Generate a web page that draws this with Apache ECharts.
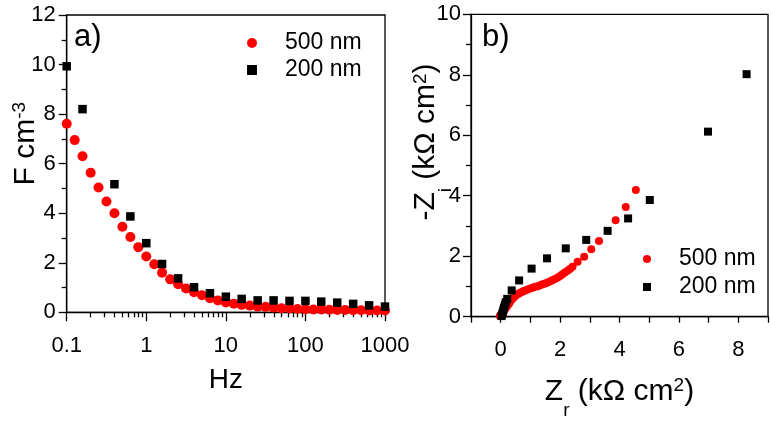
<!DOCTYPE html>
<html><head><meta charset="utf-8">
<script src="https://cdn.jsdelivr.net/npm/echarts@6/dist/echarts.min.js"></script>
<style>html,body{margin:0;padding:0;background:#fff}#c{width:771px;height:421px}</style>
</head><body><div id="c"></div>
<script>
// ---- Panel a) : capacitance vs frequency ----
const freq500 = [0.1, 0.126, 0.158, 0.2, 0.251, 0.316, 0.398, 0.501, 0.631, 0.794,
  1, 1.26, 1.58, 2, 2.51, 3.16, 3.98, 5.01, 6.31, 7.94,
  10, 12.6, 15.8, 20, 25.1, 31.6, 39.8, 50.1, 63.1, 79.4,
  100, 126, 158, 200, 251, 316, 398, 501, 631, 794, 1000];
const cap500 = [7.61, 6.95, 6.30, 5.63, 5.04, 4.47, 4.00, 3.45, 3.04, 2.63,
  2.25, 1.94, 1.60, 1.33, 1.13, 0.96, 0.81, 0.69, 0.57, 0.48,
  0.40, 0.35, 0.30, 0.27, 0.23, 0.22, 0.19, 0.16, 0.15, 0.13,
  0.12, 0.11, 0.11, 0.10, 0.09, 0.09, 0.08, 0.08, 0.07, 0.07, 0.07];
const freq200 = [0.1, 0.158, 0.398, 0.631, 1, 1.58, 2.51, 3.98, 6.31, 10,
  15.8, 25.1, 39.8, 63.1, 100, 158, 251, 398, 631, 1000];
const cap200 = [9.93, 8.20, 5.17, 3.87, 2.79, 1.95, 1.37, 1.01, 0.77, 0.63,
  0.54, 0.48, 0.48, 0.46, 0.46, 0.43, 0.39, 0.34, 0.28, 0.23];
const logMinorTicks = [0.2,0.3,0.4,0.5,0.6,0.7,0.8,0.9, 2,3,4,5,6,7,8,9,
  20,30,40,50,60,70,80,90, 200,300,400,500,600,700,800,900];

// ---- Panel b) : Nyquist plot ----
const zr500 = [-0.03, 0.00, 0.02, 0.06, 0.10, 0.14, 0.19, 0.23, 0.27, 0.30,
  0.33, 0.37, 0.41, 0.45, 0.50, 0.55, 0.61, 0.68, 0.75, 0.83,
  0.91, 0.99, 1.08, 1.16, 1.25, 1.33, 1.41, 1.50, 1.58, 1.67,
  1.75, 1.83, 1.92, 2.00, 2.08, 2.16, 2.25, 2.33, 2.42, 2.59,
  2.81, 3.05, 3.31, 3.87, 4.21, 4.55];
const zi500 = [0.02, 0.05, 0.09, 0.14, 0.19, 0.25, 0.31, 0.37, 0.42, 0.47,
  0.52, 0.57, 0.61, 0.65, 0.69, 0.73, 0.77, 0.80, 0.84, 0.87,
  0.90, 0.93, 0.96, 0.99, 1.01, 1.04, 1.07, 1.10, 1.13, 1.17,
  1.21, 1.25, 1.30, 1.35, 1.40, 1.46, 1.52, 1.58, 1.65, 1.82,
  1.98, 2.23, 2.50, 3.19, 3.63, 4.19];
const zr200 = [0.03, 0.05, 0.07, 0.09, 0.11, 0.14, 0.17, 0.22, 0.37, 0.62,
  1.04, 1.56, 2.19, 2.88, 3.60, 4.29, 5.02, 6.98, 8.28];
const zi200 = [0.02, 0.08, 0.15, 0.22, 0.30, 0.39, 0.48, 0.59, 0.87, 1.20,
  1.59, 1.93, 2.26, 2.54, 2.84, 3.25, 3.86, 6.12, 8.02];

const seriesNames = ['500 nm', '200 nm'];
const yTicksA = [0, 2, 4, 6, 8, 10, 12];

const FONT = "'Liberation Sans', Arial, sans-serif";
const AX = {color: '#000', width: 1.3};
const richT = {
  m:   {fontSize: 30, fontFamily: FONT, color: '#000', lineHeight: 38, verticalAlign: 'top'},
  sup: {fontSize: 19, fontFamily: FONT, color: '#000', lineHeight: 18, verticalAlign: 'top'},
  sub: {fontSize: 19, fontFamily: FONT, color: '#000', lineHeight: 18, verticalAlign: 'top', padding: [25, 0, 0, 0]}
};
const tickLabel = {fontSize: 22, color: '#000', fontFamily: FONT};

const zip = (a, b) => a.map((v, i) => [v, b[i]]);

const gridA = {left: 66.7, top: 15, width: 318.3, height: 297.3};
const NB = {outerBoundsMode: 'none', containLabel: false};

const chart = echarts.init(document.getElementById('c'), null, {renderer: 'canvas'});
chart.setOption({
  animation: false,
  backgroundColor: '#fff',
  title: [
    {text: 'a)', left: 74, top: 22, padding: 0, textStyle: {fontSize: 31, fontWeight: 'normal', fontFamily: FONT, color: '#000'}},
    {text: 'b)', left: 482, top: 22, padding: 0, textStyle: {fontSize: 31, fontWeight: 'normal', fontFamily: FONT, color: '#000'}}
  ],
  legend: [
    {left: 242, top: 26.5, orient: 'vertical', itemWidth: 10, itemHeight: 10, itemGap: 4, selectedMode: false,
     data: [{name: seriesNames[0], icon: 'circle'}, {name: seriesNames[1], icon: 'rect'}],
     formatter: '{t|{name}}',
     textStyle: {rich: {t: {fontSize: 23, fontFamily: FONT, color: '#000', padding: [0, 0, 0, 23]}}}},
    {left: 638, top: 242.5, orient: 'vertical', itemWidth: 8, itemHeight: 8, itemGap: 5, selectedMode: false,
     data: [{name: seriesNames[0], icon: 'circle'}, {name: seriesNames[1], icon: 'rect'}],
     formatter: '{t|{name}}',
     textStyle: {rich: {t: {fontSize: 23, fontFamily: FONT, color: '#000', padding: [0, 0, 0, 23]}}}}
  ],
  grid: [
    Object.assign({show: true, borderColor: '#000', borderWidth: 1.3, backgroundColor: 'transparent'}, NB, gridA),
    Object.assign({left: 471, top: 14.3, width: 297, height: 302.4, show: true, borderColor: '#000', borderWidth: 1.3, backgroundColor: 'transparent'}, NB),
    Object.assign({show: false, left: gridA.left, width: gridA.width, top: gridA.top + gridA.height + 5, height: 1}, NB)
  ],
  xAxis: [
    {type: 'log', logBase: 10, gridIndex: 0, min: 0.1, max: 1000,
     axisLine: {show: true, onZero: false, lineStyle: AX},
     axisTick: {show: true, length: 9, lineStyle: AX},
     axisLabel: Object.assign({margin: 23, formatter: v => String(Math.round(v * 10) / 10)}, tickLabel),
     splitLine: {show: false},
     name: 'Hz', nameLocation: 'middle', nameGap: 54, nameMoveOverlap: false,
     nameTextStyle: {fontSize: 28, fontFamily: FONT, color: '#000'}},
    {type: 'value', gridIndex: 1, min: -1, max: 9, interval: 1,
     axisLine: {show: true, onZero: false, lineStyle: AX},
     axisTick: {show: true, length: 6, lineStyle: AX},
     axisLabel: Object.assign({margin: 22, formatter: v => (v % 2 === 0 ? String(v) : '')}, tickLabel),
     splitLine: {show: false},
     name: '{m|Z}{sub|r}{m| (kΩ cm}{sup|2}{m|)}', nameLocation: 'middle', nameGap: 60, nameMoveOverlap: false,
     nameTextStyle: {rich: richT}},
    {type: 'log', logBase: 10, gridIndex: 2, min: 0.1, max: 1000, show: false},
    {type: 'log', logBase: 10, gridIndex: 2, min: 0.1, max: 1000,
     axisLine: {show: false, onZero: false},
     axisTick: {show: true, length: 5, lineStyle: AX, customValues: logMinorTicks},
     axisLabel: {show: false}, splitLine: {show: false}}
  ],
  yAxis: [
    {type: 'value', gridIndex: 0, min: yTicksA[0], max: yTicksA[yTicksA.length - 1], interval: 2,
     axisLine: {show: true, onZero: false, lineStyle: AX},
     axisTick: {show: true, length: 8, lineStyle: AX},
     minorTick: {show: true, splitNumber: 2, length: 5, lineStyle: AX},
     axisLabel: Object.assign({margin: 11}, tickLabel),
     splitLine: {show: false}, minorSplitLine: {show: false},
     name: '{m|F cm}{sup|-3}', nameLocation: 'middle', nameGap: 18, nameMoveOverlap: false,
     nameTextStyle: {padding: [0, 0, 0, 40], rich: richT}},
    {type: 'value', gridIndex: 1, min: 0, max: 10, interval: 2,
     axisLine: {show: true, onZero: false, lineStyle: AX},
     axisTick: {show: true, length: 8, lineStyle: AX},
     minorTick: {show: true, splitNumber: 2, length: 5, lineStyle: AX},
     axisLabel: Object.assign({margin: 10}, tickLabel),
     splitLine: {show: false}, minorSplitLine: {show: false},
     name: '{m|-Z}{sub|i}{m| (kΩ cm}{sup|2}{m|)}', nameLocation: 'middle', nameGap: 22, nameMoveOverlap: false,
     nameTextStyle: {padding: [0, 0, 0, 47], rich: richT}},
    {type: 'value', gridIndex: 2, min: 0, max: 1, show: false}
  ],
  series: [
    {type: 'scatter', name: seriesNames[0], xAxisIndex: 0, yAxisIndex: 0, symbol: 'circle', symbolSize: 10, clip: false,
     itemStyle: {color: '#ff0000', opacity: 1}, emphasis: {disabled: true}, data: zip(freq500, cap500)},
    {type: 'scatter', name: seriesNames[1], xAxisIndex: 0, yAxisIndex: 0, symbol: 'rect', symbolSize: 8.5, clip: false,
     itemStyle: {color: '#000', opacity: 1}, emphasis: {disabled: true}, data: zip(freq200, cap200)},
    {type: 'scatter', name: seriesNames[0], xAxisIndex: 1, yAxisIndex: 1, symbol: 'circle', symbolSize: 8, clip: false,
     itemStyle: {color: '#ff0000', opacity: 1}, emphasis: {disabled: true}, data: zip(zr500, zi500)},
    {type: 'scatter', name: seriesNames[1], xAxisIndex: 1, yAxisIndex: 1, symbol: 'rect', symbolSize: 8, clip: false,
     itemStyle: {color: '#000', opacity: 1}, emphasis: {disabled: true}, data: zip(zr200, zi200)},
    {type: 'scatter', xAxisIndex: 2, yAxisIndex: 2, silent: true, data: []}
  ]
});
</script>
</body></html>
